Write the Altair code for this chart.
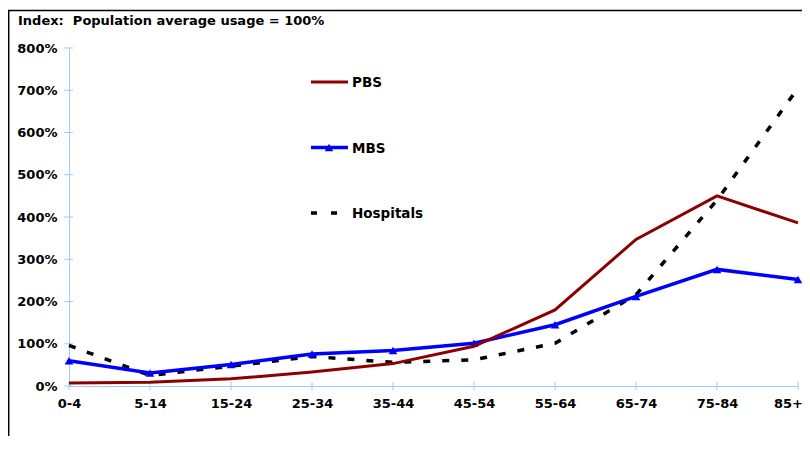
import altair as alt
import pandas as pd

# ---- data ----
ages = ["0-4", "5-14", "15-24", "25-34", "35-44", "45-54", "55-64", "65-74", "75-84", "85+"]
pbs = [7, 9, 17, 33, 53, 94, 180, 347, 450, 386]
mbs = [60, 31, 51, 76, 84, 101, 145, 212, 276, 252]
hospitals = [96, 25, 47, 70, 56, 62, 101, 216, 440, 705]
y_ticks = [0, 100, 200, 300, 400, 500, 600, 700, 800]
series_names = ["PBS", "MBS", "Hospitals"]
title_text = "Index:\u00a0 Population average usage = 100%"

# ---- styling ----
W, H = 729, 338
FONT = "DejaVu Sans"
FS = 13
AXIS_BLUE = "#99ccff"
COLORS = {"PBS": "#8b0000", "MBS": "#0000ff", "Hospitals": "#000000"}

df = pd.DataFrame({
    "age": ages * 3,
    "value": pbs + mbs + hospitals,
    "series": ["PBS"] * len(ages) + ["MBS"] * len(ages) + ["Hospitals"] * len(ages),
})

x_enc = alt.X(
    "age:N", sort=ages, title=None,
    scale=alt.Scale(type="point", padding=0),
    axis=alt.Axis(labelAngle=0, ticks=False, tickSize=0, labelPadding=11,
                  labelOffset={"expr": "datum.label == '85+' ? -10 : 0"},
                  domainColor=AXIS_BLUE, domainWidth=1, grid=False,
                  labelFont=FONT, labelFontWeight="bold", labelFontSize=FS,
                  labelColor="black"),
)
y_enc = alt.Y(
    "value:Q", title=None,
    scale=alt.Scale(domain=[0, 800], nice=False, zero=True),
    axis=alt.Axis(values=y_ticks, labelExpr="datum.value + '%'", ticks=False,
                  tickSize=0, labelPadding=12, domainColor=AXIS_BLUE,
                  domainWidth=1, grid=False, labelFont=FONT,
                  labelFontWeight="bold", labelFontSize=FS, labelColor="black"),
)

base = alt.Chart(df)

hosp_line = base.transform_filter(alt.datum.series == "Hospitals").mark_line(
    color=COLORS["Hospitals"], strokeWidth=3.5, strokeDash=[7, 12], strokeCap="butt"
).encode(x=x_enc, y=y_enc)

mbs_line = base.transform_filter(alt.datum.series == "MBS").mark_line(
    color=COLORS["MBS"], strokeWidth=3.5
).encode(x=x_enc, y=y_enc)

mbs_pts = base.transform_filter(alt.datum.series == "MBS").mark_point(
    shape="triangle-up", filled=True, size=75, color=COLORS["MBS"], opacity=1
).encode(x=x_enc, y=y_enc)

pbs_line = base.transform_filter(alt.datum.series == "PBS").mark_line(
    color=COLORS["PBS"], strokeWidth=3
).encode(x=x_enc, y=y_enc)

# crossing axis ticks
yt = alt.Chart(pd.DataFrame({"value": y_ticks})).mark_rule(
    color=AXIS_BLUE, strokeWidth=1
).encode(y=y_enc, x=alt.value(-5), x2=alt.value(4))

xt = alt.Chart(pd.DataFrame({"age": ages})).mark_rule(
    color=AXIS_BLUE, strokeWidth=1
).encode(x=x_enc, y=alt.value(H - 4), y2=alt.value(H + 4))

# title
title = alt.Chart(pd.DataFrame({"t": [title_text]})).mark_text(
    align="left", baseline="alphabetic", font=FONT, fontWeight="bold",
    fontSize=13, color="black"
).encode(text="t:N", x=alt.value(-51), y=alt.value(-23))

# frame lines
one = pd.DataFrame({"k": [0]})
top_line = alt.Chart(one).mark_rule(color="black", strokeWidth=1.5).encode(
    x=alt.value(-61), x2=alt.value(W + 12), y=alt.value(-37.5))
left_line = alt.Chart(one).mark_rule(color="black", strokeWidth=1.5).encode(
    x=alt.value(-60.3), y=alt.value(-37.5), y2=alt.value(H + 50))

# manual legend
leg_y = {"PBS": 34, "MBS": 99.5, "Hospitals": 165}
legend_layers = []
for s in series_names:
    ldf = pd.DataFrame({"label": [s]})
    lc = alt.Chart(ldf)
    if s == "Hospitals":
        legend_layers.append(lc.mark_rule(color=COLORS[s], strokeWidth=3.5,
                                          strokeDash=[6, 14], strokeCap="butt").encode(
            x=alt.value(242), x2=alt.value(270), y=alt.value(leg_y[s])))
    else:
        legend_layers.append(lc.mark_rule(color=COLORS[s],
                                          strokeWidth=3.5 if s == "MBS" else 3).encode(
            x=alt.value(242), x2=alt.value(279), y=alt.value(leg_y[s])))
    if s == "MBS":
        legend_layers.append(lc.mark_point(shape="triangle-up", filled=True, size=75,
                                           color=COLORS[s], opacity=1).encode(
            x=alt.value(260), y=alt.value(leg_y[s])))
    legend_layers.append(lc.mark_text(align="left", baseline="middle", font=FONT,
                                      fontWeight="bold", fontSize=13.5, color="black").encode(
        text="label:N", x=alt.value(283), y=alt.value(leg_y[s] + 1)))

chart = alt.layer(
    top_line, left_line, title, yt, xt,
    hosp_line, mbs_line, mbs_pts, pbs_line,
    *legend_layers,
).properties(
    width=W, height=H,
    padding={"left": 61, "top": 40, "right": 4, "bottom": 50},
    autosize=alt.AutoSizeParams(type="none"),
    background="white",
).configure_view(stroke=None)

chart.save("out.html", embed_options={"renderer": "svg", "actions": False})
